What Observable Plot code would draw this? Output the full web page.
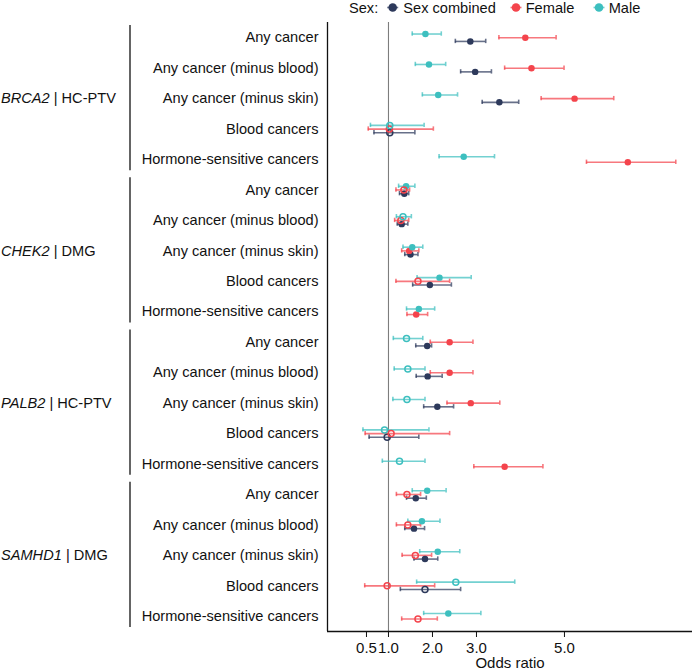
<!DOCTYPE html>
<html><head><meta charset="utf-8">
<script src="https://cdn.jsdelivr.net/npm/d3@7"></script>
<script src="https://cdn.jsdelivr.net/npm/@observablehq/plot@0.6"></script>
<style>
body{margin:0;background:#fff;}
#chart svg{font-family:"Liberation Sans", Arial, Helvetica, sans-serif;}
</style>
</head><body><div id="chart"></div>
<script>
// ---------- data ----------
const genes = ["BRCA2", "CHEK2", "PALB2", "SAMHD1"];
const variantClasses = ["HC-PTV", "DMG", "HC-PTV", "DMG"];
const outcomes = ["Any cancer", "Any cancer (minus blood)", "Any cancer (minus skin)", "Blood cancers", "Hormone-sensitive cancers"];
const seriesNames = ["Sex combined", "Female", "Male"];
const xTicks = [0.5, 1, 2, 3, 5];

// rows: BRCA2 x5, CHEK2 x5, PALB2 x5, SAMHD1 x5 (outcome order as above)
const combinedOR = [2.86, 2.97, 3.52, 1.03, null, 1.36, 1.30, 1.50, 1.94, null, 1.88, 1.89, 2.11, 0.97, null, 1.62, 1.58, 1.83, 1.83, null];
const combinedLo = [2.52, 2.64, 3.13, 0.67, null, 1.25, 1.20, 1.37, 1.55, null, 1.62, 1.63, 1.80, 0.56, null, 1.41, 1.37, 1.58, 1.27, null];
const combinedHi = [3.21, 3.34, 3.96, 1.60, null, 1.46, 1.44, 1.67, 2.43, null, 1.98, 2.22, 2.48, 1.69, null, 1.86, 1.82, 2.12, 2.64, null];
const combinedSig = [1, 1, 1, 0, 0, 1, 1, 1, 1, 0, 1, 1, 1, 0, 0, 1, 1, 1, 0, 0];

const femaleOR = [4.11, 4.25, 5.23, 1.02, 6.44, 1.35, 1.28, 1.47, 1.67, 1.63, 2.39, 2.39, 2.87, 1.06, 3.64, 1.42, 1.44, 1.61, 0.97, 1.67];
const femaleLo = [3.51, 3.64, 4.47, 0.54, 5.50, 1.17, 1.14, 1.30, 1.17, 1.42, 1.95, 1.95, 2.33, 0.47, 2.94, 1.18, 1.18, 1.31, 0.46, 1.30];
const femaleHi = [4.81, 4.99, 6.12, 2.02, 7.53, 1.48, 1.46, 1.69, 2.39, 1.89, 2.92, 2.92, 3.53, 2.39, 4.51, 1.73, 1.73, 1.98, 2.05, 2.11];
const femaleSig = [1, 1, 1, 0, 1, 0, 0, 1, 0, 1, 1, 1, 1, 0, 1, 0, 0, 0, 0, 0];

const maleOR = [1.84, 1.92, 2.13, 1.03, 2.71, 1.40, 1.33, 1.54, 2.16, 1.69, 1.41, 1.44, 1.42, 0.91, 1.25, 1.88, 1.76, 2.12, 2.53, 2.36];
const maleLo = [1.54, 1.61, 1.77, 0.59, 2.15, 1.23, 1.18, 1.33, 1.65, 1.41, 1.11, 1.13, 1.10, 0.42, 0.86, 1.54, 1.44, 1.71, 1.64, 1.80];
const maleHi = [2.20, 2.30, 2.57, 1.81, 3.41, 1.60, 1.52, 1.78, 2.88, 2.05, 1.78, 1.83, 1.83, 1.92, 1.83, 2.31, 2.17, 2.62, 3.87, 3.10];
const maleSig = [1, 1, 1, 0, 1, 1, 0, 1, 1, 1, 0, 0, 0, 0, 0, 1, 1, 1, 0, 1];

// ---------- layout / style ----------
const colors = ["#2D395B", "#F4444C", "#3DBFBF"];
const W = 692, H = 671, mL = 327, mR = 0, mT = 22, mB = 40;
const nRows = genes.length * outcomes.length;
const step = (H - mT - mB) / nRows;
const xMin = -0.386, xMax = 7.91;
const dodgePx = 11.1, capPx = 2.2;
const FS = 14.6;

const seriesData = [
  [combinedOR, combinedLo, combinedHi, combinedSig],
  [femaleOR, femaleLo, femaleHi, femaleSig],
  [maleOR, maleLo, maleHi, maleSig]
];
const topToBottom = [2, 1, 0]; // male, female, combined

const points = [];
for (let r = 0; r < nRows; r++) {
  const present = topToBottom.filter(s => seriesData[s][0][r] != null);
  const n = present.length;
  present.forEach((s, k) => {
    const offPx = (k - (n - 1) / 2) * dodgePx / n;
    const [or, lo, hi, sig] = seriesData[s];
    points.push({s, series: seriesNames[s], row: r, y: r + offPx / step,
      or: or[r], lo: lo[r], hi: hi[r], filled: !!sig[r], color: colors[s]});
  });
}
points.sort((a, b) => a.s - b.s);
const capH = capPx / step;

const groups = genes.map((g, i) => ({
  label: g + " | " + variantClasses[i],
  mid: i * outcomes.length + 2,
  top: i * outcomes.length - 0.4,
  bottom: i * outcomes.length + outcomes.length - 1 + 0.37
}));

const svg = Plot.plot({
  width: W, height: H,
  marginLeft: mL, marginRight: mR, marginTop: mT, marginBottom: mB,
  style: {fontFamily: '"Liberation Sans", Arial, Helvetica, sans-serif', fontSize: FS + "px", color: "#111", background: "white"},
  x: {domain: [xMin, xMax]},
  y: {domain: [nRows - 0.5, -0.5]},
  color: {type: "identity"},
  marks: [
    Plot.ruleX([1], {stroke: "#7d7d7d", strokeWidth: 1.1}),
    Plot.ruleY(points, {y: "y", x1: "lo", x2: "hi", stroke: "color", strokeWidth: 1.6, strokeOpacity: 0.72}),
    Plot.ruleX(points, {x: "lo", y1: d => d.y - capH, y2: d => d.y + capH, stroke: "color", strokeWidth: 1.6, strokeOpacity: 0.72}),
    Plot.ruleX(points, {x: "hi", y1: d => d.y - capH, y2: d => d.y + capH, stroke: "color", strokeWidth: 1.6, strokeOpacity: 0.72}),
    Plot.dot(points, {x: "or", y: "y", r: d => d.filled ? 4.3 : 3.7,
      fill: d => d.filled ? d.color : "none", stroke: d => d.filled ? "none" : d.color, strokeWidth: 1.5}),
    Plot.ruleX([xMin], {stroke: "#111", strokeWidth: 1.3}),
    Plot.ruleY([nRows - 0.5], {stroke: "#111", strokeWidth: 1.3}),
    Plot.axisX({ticks: xTicks, tickFormat: d3.format(".1f"), tickSize: 6, tickPadding: 5, label: null, fontSize: FS + 0.4}),
    Plot.axisY({ticks: d3.range(nRows), tickFormat: i => outcomes[i % outcomes.length], tickSize: 0, tickPadding: 9, label: null, fontSize: FS}),
    Plot.text(["Odds ratio"], {frameAnchor: "bottom", lineAnchor: "middle", dy: 31.5, fontSize: FS + 0.4}),
    Plot.ruleX(groups, {x: xMin, y1: "top", y2: "bottom", dx: -197.5, stroke: "#111", strokeWidth: 1.3}),
    Plot.text(groups, {x: xMin, y: "mid", text: "label", textAnchor: "start", dx: -326.5, fontSize: FS})
  ]
});

// italic gene names in group labels
d3.select(svg).selectAll("text").filter(function () { return this.textContent.includes(" | "); })
  .each(function () {
    const t = this.textContent;
    const i = t.indexOf(" | ");
    const el = d3.select(this);
    el.text(null);
    el.append("tspan").attr("font-style", "italic").text(t.slice(0, i));
    el.append("tspan").text(t.slice(i));
  });

// legend
const lg = d3.select(svg).append("g").attr("font-size", FS).attr("fill", "#111").attr("text-anchor", "start");
const ly = 7.5;
lg.append("text").attr("x", 349).attr("y", ly).attr("dy", "0.35em").text("Sex:");
const items = [
  {s: 0, cx: 392.7, tx: 403.3},
  {s: 1, cx: 516, tx: 525.7},
  {s: 2, cx: 599, tx: 608.7}
];
items.forEach(it => {
  lg.append("line").attr("x1", it.cx - 5.5).attr("x2", it.cx + 5.5).attr("y1", ly).attr("y2", ly)
    .attr("stroke", colors[it.s]).attr("stroke-width", 1.6).attr("stroke-opacity", 0.72);
  lg.append("circle").attr("cx", it.cx).attr("cy", ly).attr("r", 4.3).attr("fill", colors[it.s]);
  lg.append("text").attr("x", it.tx).attr("y", ly).attr("dy", "0.35em").text(seriesNames[it.s]);
});

document.getElementById("chart").appendChild(svg);
</script>
</body></html>
